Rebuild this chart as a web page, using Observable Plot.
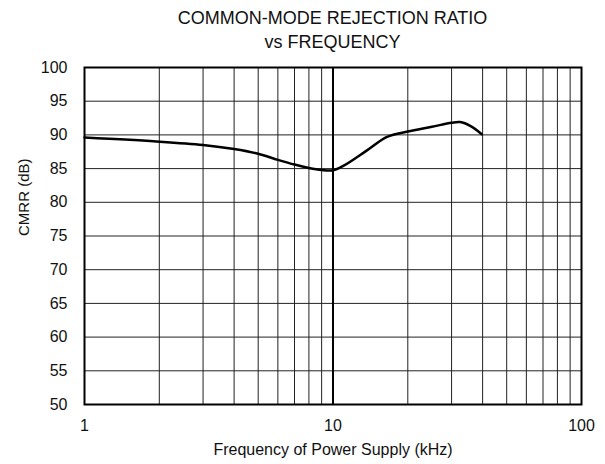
<!DOCTYPE html>
<html><head><meta charset="utf-8">
<script src="https://cdn.jsdelivr.net/npm/d3@7"></script>
<script src="https://cdn.jsdelivr.net/npm/@observablehq/plot@0.6"></script>
<style>
body{margin:0;background:#fff;font-family:"Liberation Sans",Arial,sans-serif;}
#title{width:605px;height:55px;position:relative;}
#title div{position:absolute;left:84px;width:497px;text-align:center;font-size:18px;color:#111;line-height:20px;}
</style></head><body>
<div id="title"><div style="top:8px">COMMON-MODE REJECTION RATIO</div><div style="top:32px">vs FREQUENCY</div></div>
<div id="chart"></div>
<script>
const freq = [1, 2, 3, 4, 5, 6, 7, 8, 9, 10, 11, 13.7, 16.5, 20, 25, 30, 32.5, 35.8, 39.7];
const cmrr = [89.6, 89.0, 88.5, 87.9, 87.2, 86.3, 85.6, 85.1, 84.8, 84.75, 85.4, 87.7, 89.7, 90.5, 91.2, 91.8, 91.9, 91.3, 90.1];
const xTicks = [1, 10, 100];
const yTicks = [50, 55, 60, 65, 70, 75, 80, 85, 90, 95, 100];
const xMinor = [2,3,4,5,6,7,8,9,20,30,40,50,60,70,80,90];
const yGrid = [55, 60, 65, 70, 75, 80, 85, 90, 95];
const yLabel = "CMRR (dB)";
const xLabel = "Frequency of Power Supply (kHz)";

const data = freq.map((f, i) => ({f, v: cmrr[i]}));

const chart = Plot.plot({
  width: 605, height: 409,
  marginTop: 12, marginBottom: 60, marginLeft: 84, marginRight: 24,
  style: {fontFamily: '"Liberation Sans", Arial, sans-serif', fontSize: "16px", color: "#111", background: "#fff"},
  x: {type: "log", domain: [1, 100], ticks: xTicks, tickFormat: d => String(d), tickSize: 0, tickPadding: 15, label: xLabel, labelAnchor: "center", labelArrow: "none", labelOffset: 50},
  y: {domain: [50, 100], ticks: yTicks, tickSize: 0, tickPadding: 17, label: null},
  marks: [
    Plot.ruleX(xMinor, {stroke: "#222", strokeWidth: 1}),
    Plot.ruleY(yGrid, {stroke: "#222", strokeWidth: 1}),
    Plot.ruleX([10], {stroke: "#000", strokeWidth: 2}),
    Plot.frame({stroke: "#000", strokeWidth: 2}),
    Plot.line(data, {x: "f", y: "v", stroke: "#000", strokeWidth: 2.5, curve: "catmull-rom"}),
    Plot.text([yLabel], {frameAnchor: "left", rotate: -90, dx: -60, fontSize: 15, fill: "#111"})
  ]
});
document.getElementById("chart").appendChild(chart);
</script>
</body></html>
